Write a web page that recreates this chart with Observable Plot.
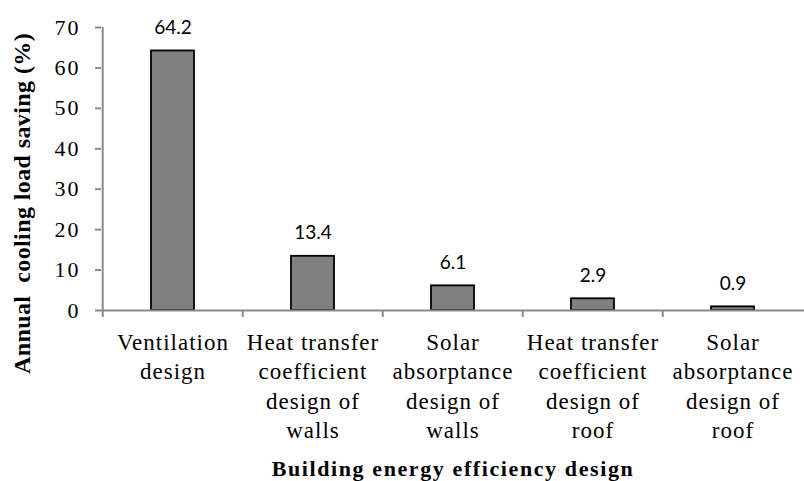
<!DOCTYPE html>
<html><head><meta charset="utf-8">
<script src="https://cdn.jsdelivr.net/npm/d3@7"></script>
<script src="https://cdn.jsdelivr.net/npm/@observablehq/plot@0.6"></script>
<style>
html,body{margin:0;padding:0;background:#fff;overflow:hidden}
#chart svg{display:block}
g[aria-label="x-axis tick label"] text{letter-spacing:1px}
g[aria-label="y-axis tick label"] text{letter-spacing:2px}
</style></head><body><div id="chart"></div>
<script>
const categories = [
  "Ventilation design",
  "Heat transfer coefficient design of walls",
  "Solar absorptance design of walls",
  "Heat transfer coefficient design of roof",
  "Solar absorptance design of roof"
];
const tickLabels = [
  "Ventilation\ndesign",
  "Heat transfer\ncoefficient\ndesign of\nwalls",
  "Solar\nabsorptance\ndesign of\nwalls",
  "Heat transfer\ncoefficient\ndesign of\nroof",
  "Solar\nabsorptance\ndesign of\nroof"
];
const values = [64.2, 13.4, 6.1, 2.9, 0.9];
const yTicks = [0, 10, 20, 30, 40, 50, 60, 70];
const yTitle = "Annual  cooling load saving (%)";
const xTitle = "Building energy efficiency design";

const W = 804, H = 481, ML = 101, MR = 0, MT = 27, MB = 171;
const step = (W - ML - MR) / categories.length;
const axisColor = "#898989";
const data = categories.map((c, i) => ({category: c, value: values[i]}));

const plot = Plot.plot({
  width: W, height: H,
  marginLeft: ML, marginRight: MR, marginTop: MT, marginBottom: MB,
  style: {fontFamily: "'Liberation Serif', 'Times New Roman', serif", background: "#fff", color: "#000", overflow: "visible"},
  x: {domain: categories, paddingInner: 0.69, paddingOuter: 0.345, label: null},
  y: {domain: [0, 70], ticks: yTicks, label: null},
  marks: [
    Plot.barY(data, {x: "category", y: "value", fill: "#808080", stroke: "#000", strokeWidth: 1.8}),
    Plot.ruleY([0], {stroke: axisColor, strokeWidth: 2}),
    Plot.ruleX([categories[0]], {x: d => d, dx: -step / 2, stroke: axisColor, strokeWidth: 2, insetBottom: -7}),
    Plot.ruleX(categories.slice(1), {x: d => d, dx: -step / 2, stroke: axisColor, strokeWidth: 2, insetTop: H - MT - MB, insetBottom: -7}),
    Plot.axisY({ticks: yTicks, tickSize: 6, tickPadding: 15, stroke: axisColor, strokeWidth: 2, fill: "#000", fontSize: 22, label: null}),
    Plot.axisX({tickSize: 0, tickPadding: 19, fontSize: 23, lineHeight: 1.27, fill: "#000", label: null,
      tickFormat: d => tickLabels[categories.indexOf(d)]}),
    Plot.text(data, {x: "category", y: "value", text: d => d.value.toFixed(1), dy: -23, fontSize: 19, fontFamily: "Lato, 'Open Sans', sans-serif", fill: "#000"}),
    Plot.text([yTitle], {text: d => d, frameAnchor: "left", textAnchor: "middle", lineAnchor: "middle", rotate: -90, dx: -79, dy: 34.5, fontSize: 24, fontWeight: "bold", fill: "#000"}),
    Plot.text([xTitle], {text: d => d, frameAnchor: "bottom", textAnchor: "middle", lineAnchor: "middle", dy: 158.5, fontSize: 22, fontWeight: "bold", fill: "#000"})
  ]
});
document.getElementById("chart").appendChild(plot);
d3.select(plot).selectAll("text").filter(function() { return this.textContent === xTitle; }).style("letter-spacing", "1.6px");
d3.select(plot).selectAll("text").filter(function() { return this.textContent === yTitle; }).style("letter-spacing", "0.4px");
</script>
</body></html>
